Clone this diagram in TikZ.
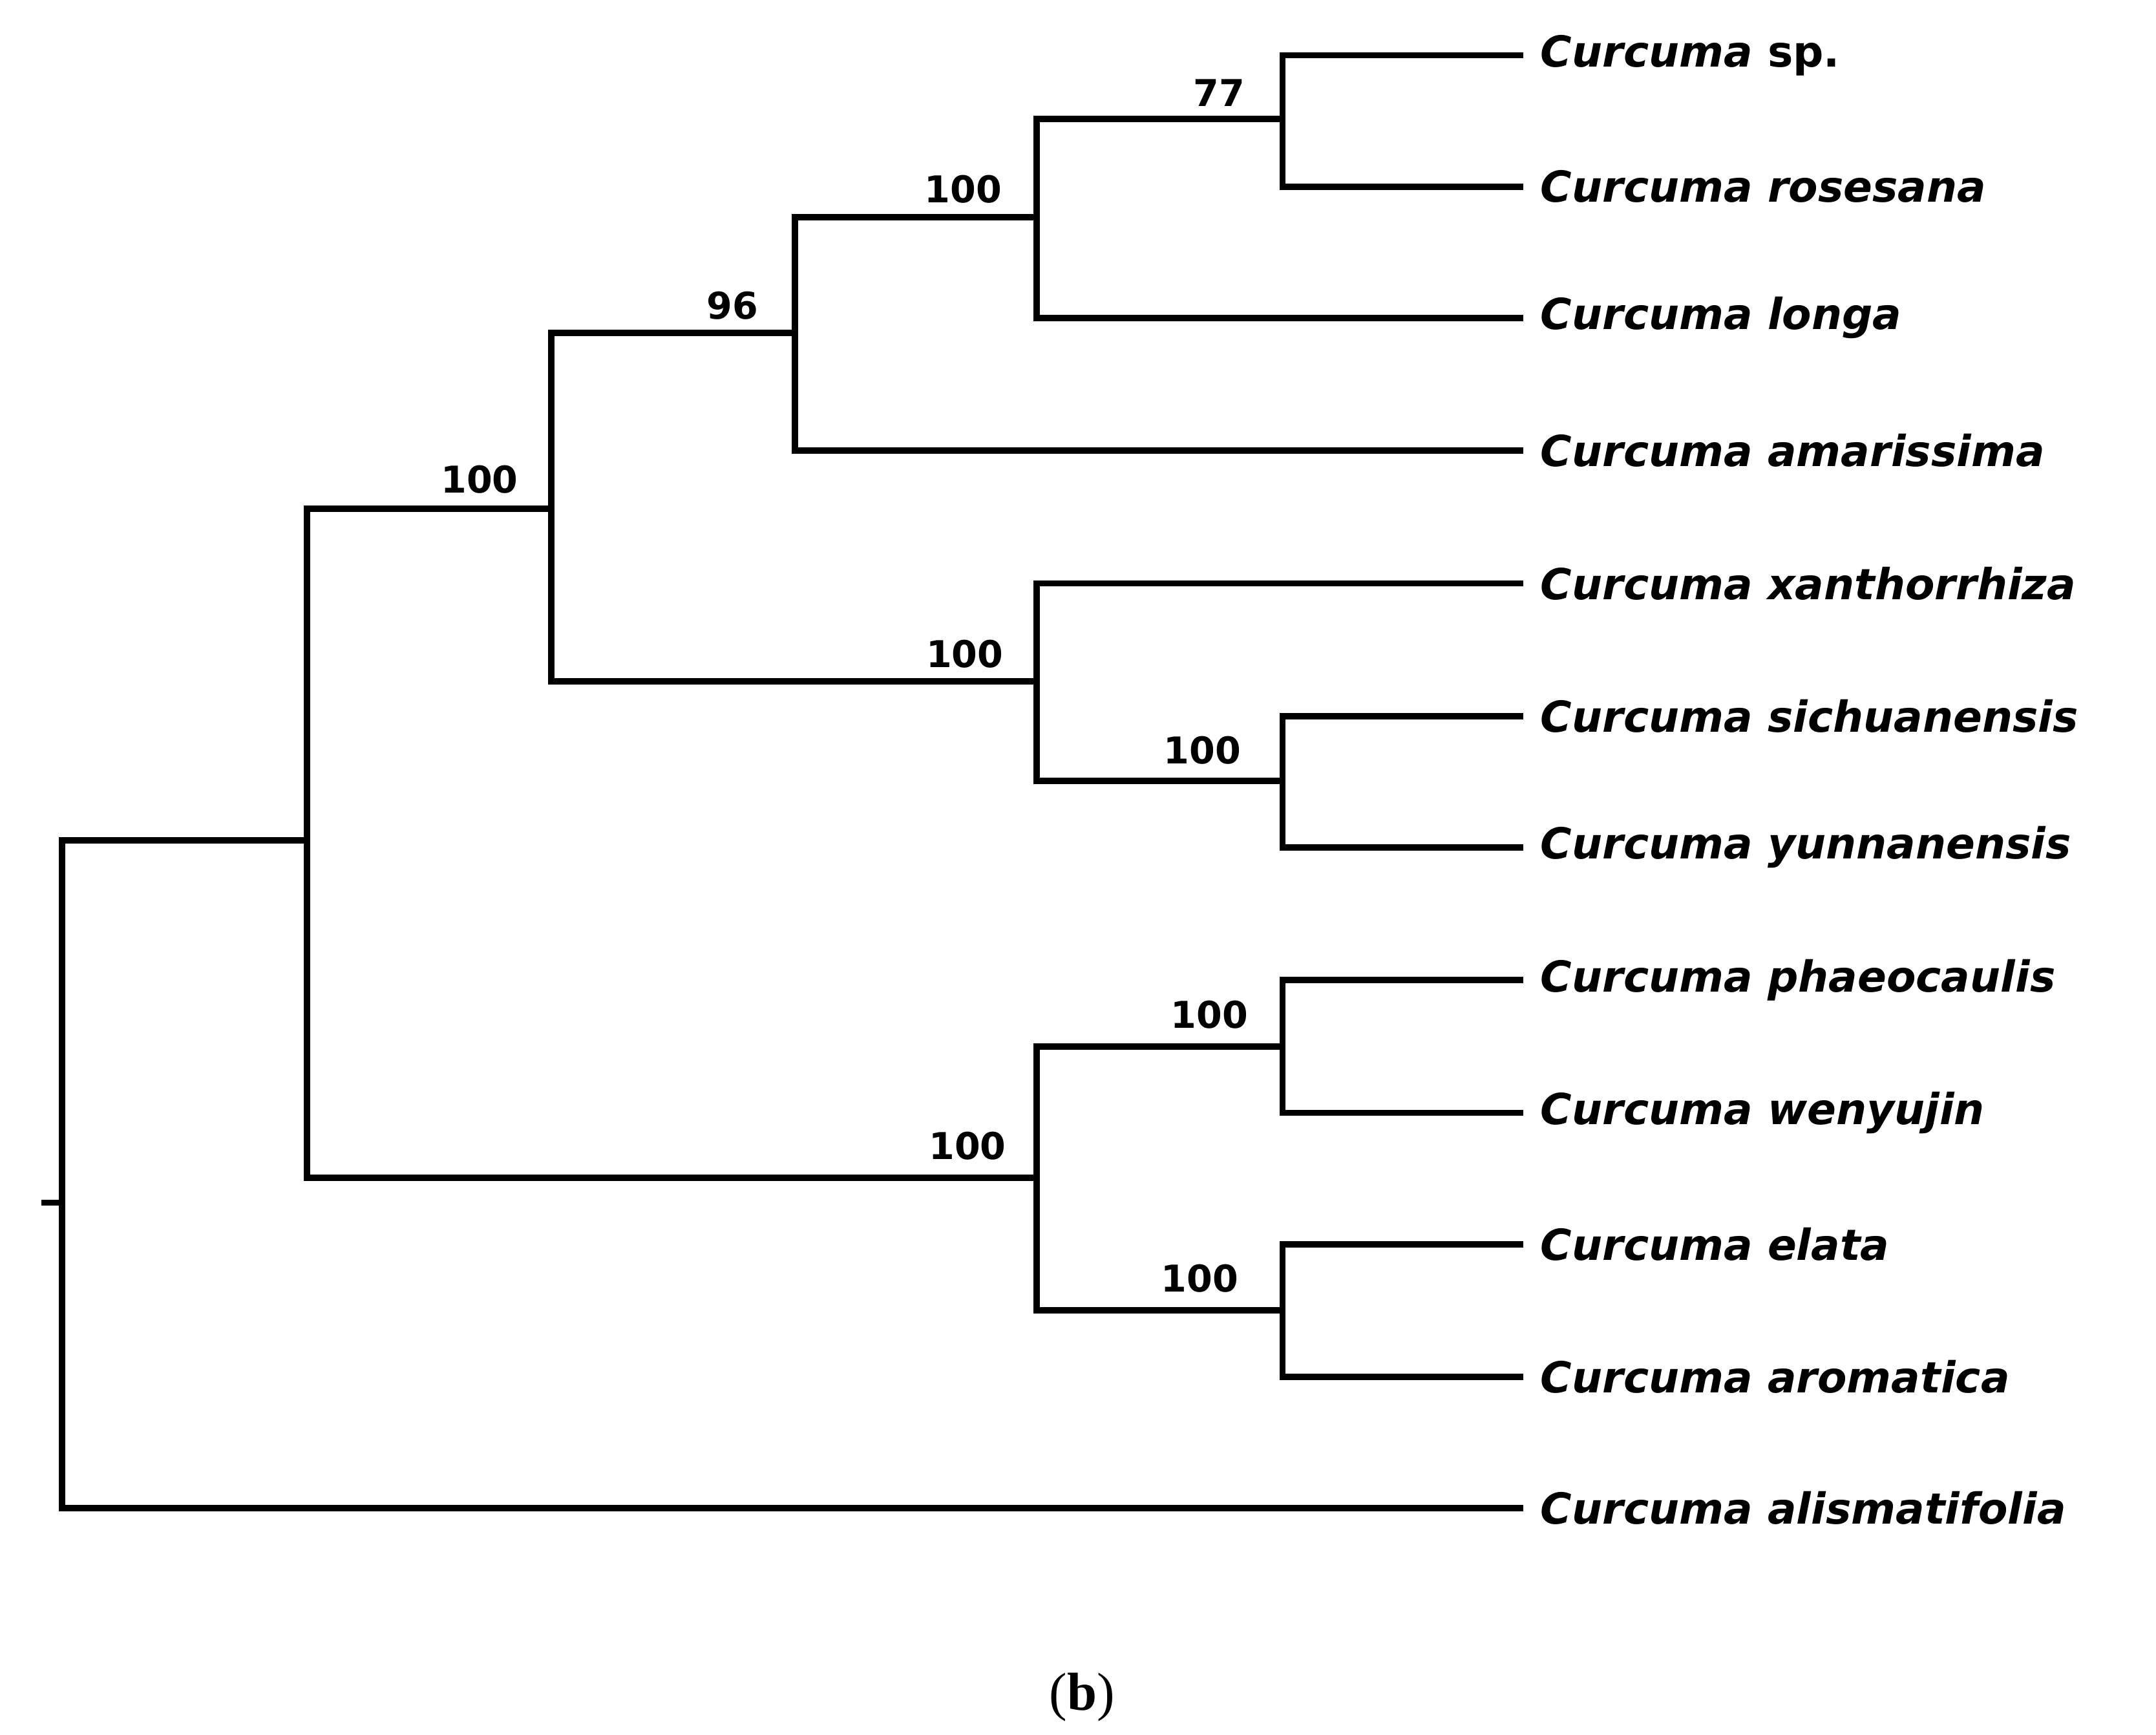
\documentclass[tikz,border=0pt]{standalone}
\usepackage{fontspec}
\setmainfont{DejaVu Sans}
\newfontfamily\capfont{Liberation Serif}
\begin{document}
\begin{tikzpicture}[x=0.01cm,y=-0.01cm,
  br/.style={line width=1.3pt,line cap=rect},
  leaf/.style={anchor=west,font=\fontsize{8.8pt}{10pt}\selectfont\bfseries\itshape,inner sep=0pt},
  bs/.style={font=\fontsize{7.6pt}{9pt}\selectfont\bfseries,inner sep=0pt}]
\useasboundingbox (0,0) rectangle (1560,1255);
\fill[white] (0,0) rectangle (1560,1255);
% leaves
\foreach \n/\y in {l1/40,l2/135,l3/230,l4/326,l5/422,l6/518,l7/613,l8/709,l9/805,l10/900,l11/996,l12/1091}
  \coordinate (\n) at (1100,\y);
\node[leaf] (t1) at (1114,40) {Curcuma \textup{sp.}};
\node[leaf] (t2) at (1114,135) {Curcuma rosesana};
\node[leaf] (t3) at (1114,230) {Curcuma longa};
\node[leaf] (t4) at (1114,326) {Curcuma amarissima};
\node[leaf] (t5) at (1114,422) {Curcuma xanthorrhiza};
\node[leaf] (t6) at (1114,518) {Curcuma sichuanensis};
\node[leaf] (t7) at (1114,613) {Curcuma yunnanensis};
\node[leaf] (t8) at (1114,709) {Curcuma phaeocaulis};
\node[leaf] (t9) at (1114,805) {Curcuma wenyujin};
\node[leaf] (t10) at (1114,900) {Curcuma elata};
\node[leaf] (t11) at (1114,996) {Curcuma aromatica};
\node[leaf] (t12) at (1114,1091) {Curcuma alismatifolia};
% internal nodes
\coordinate (E) at (928,86);
\coordinate (D) at (750,157);
\coordinate (C) at (575,241);
\coordinate (G) at (928,565);
\coordinate (F) at (750,493);
\coordinate (B) at (399,368);
\coordinate (I) at (928,757);
\coordinate (J) at (928,948);
\coordinate (H) at (750,852);
\coordinate (A) at (222,608);
\coordinate (R) at (45,870);
\coordinate (stub) at (32,870);
% branches
\draw[br] (l1) -| (E) |- (l2);
\draw[br] (E) -| (D) |- (l3);
\draw[br] (D) -| (C) |- (l4);
\draw[br] (l6) -| (G) |- (l7);
\draw[br] (l5) -| (F) |- (G);
\draw[br] (C) -| (B) |- (F);
\draw[br] (l8) -| (I) |- (l9);
\draw[br] (l10) -| (J) |- (l11);
\draw[br] (I) -| (H) |- (J);
\draw[br] (B) -| (A) |- (H);
\draw[br] (A) -| (R) |- (l12);
\draw[br] (stub) -- (R);
% support values
\node[bs] (s1) at (882,67) {77};
\node[bs] (s2) at (697,137) {100};
\node[bs] (s3) at (530,221) {96};
\node[bs] (s4) at (347,347) {100};
\node[bs] (s5) at (698,473) {100};
\node[bs] (s6) at (870,543) {100};
\node[bs] (s7) at (875,734) {100};
\node[bs] (s8) at (700,829) {100};
\node[bs] (s9) at (868,925) {100};
\node[font=\capfont\fontsize{11pt}{13pt}\selectfont] (cap) at (783,1228) {(\textbf{b})};
\end{tikzpicture}
\end{document}
